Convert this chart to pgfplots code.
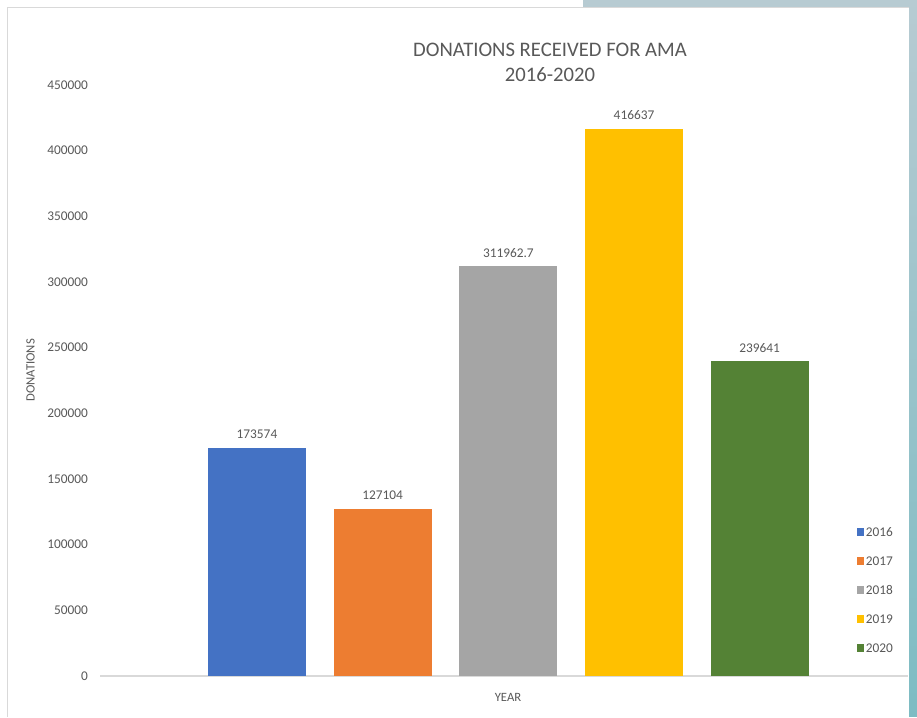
\documentclass[border=0pt]{standalone}
\usepackage{pgfplots}
\pgfplotsset{compat=1.18}
\usepackage{fontspec}
\setmainfont{Carlito}
\definecolor{txt}{HTML}{595959}
\definecolor{c16}{HTML}{4472C4}
\definecolor{c17}{HTML}{ED7D31}
\definecolor{c18}{HTML}{A5A5A5}
\definecolor{c19}{HTML}{FFC000}
\definecolor{c20}{HTML}{548235}
\definecolor{frame}{HTML}{D9D9D9}
\definecolor{bandtop}{HTML}{B7CBD2}
\definecolor{bandbot}{HTML}{7DBCC3}
\begin{document}
\begin{tikzpicture}
% background (1px = 0.75pt, y up)
\fill[white] (0pt,0pt) rectangle (687.75pt,537.75pt);
\fill[bandtop] (437.25pt,531.75pt) rectangle (687.75pt,537.75pt);
\shade[top color=bandtop, bottom color=bandbot] (681.75pt,0pt) rectangle (687.75pt,537.75pt);
\draw[frame, line width=0.75pt] (5.25pt,0pt) -- (5.25pt,531.75pt) -- (681.75pt,531.75pt);
% titles and axis labels
\node[txt, font=\fontsize{15.5}{18}\selectfont] at (412.5pt,500.25pt) {DONATIONS RECEIVED FOR AMA};
\node[txt, font=\fontsize{15.5}{18}\selectfont] at (412.5pt,481.5pt) {2016-2020};
\node[txt, font=\fontsize{9.5}{11}\selectfont, rotate=90] at (23pt,260pt) {DONATIONS};
\node[txt, font=\fontsize{9.5}{11}\selectfont] at (381pt,15pt) {YEAR};
\begin{axis}[
  at={(75pt,30.75pt)}, anchor=south west,
  scale only axis, width=606pt, height=443.25pt,
  xmin=-0.249, xmax=6.18, ymin=0, ymax=450000,
  ybar, bar width=0.78, bar shift=0pt,
  ytick={0,50000,...,450000},
  xtick=\empty,
  scaled y ticks=false,
  /pgf/number format/fixed,
  /pgf/number format/1000 sep={},
  /pgf/number format/assume math mode=true,
  major tick length=0pt,
  tick label style={txt, font=\fontsize{10}{12}\selectfont},
  yticklabel style={xshift=-5.5pt},
  axis x line*=bottom,
  axis y line*=left,
  x axis line style={frame, line width=0.9pt, -},
  y axis line style={draw=none, -},
  nodes near coords={\pgfplotspointmeta},
  point meta=explicit symbolic,
  nodes near coords style={txt, font=\fontsize{10}{12}\selectfont, anchor=south, yshift=3.3pt},
  legend image code/.code={\fill[#1, draw=none] (0pt,-2.7pt) rectangle (5.4pt,2.7pt);},
  legend style={at={(564.75pt,14.25pt)}, anchor=south west, draw=none, fill=none,
    font=\fontsize{10}{12}\selectfont, text=txt,
    nodes={text height=7pt, text depth=0pt, inner sep=1pt},
    row sep=12.75pt},
  legend cell align=left,
]
\addplot[fill=c16, draw=none] coordinates {(1,173574) [173574]};
\addplot[fill=c17, draw=none] coordinates {(2,127104) [127104]};
\addplot[fill=c18, draw=none] coordinates {(3,311962.7) [311962.7]};
\addplot[fill=c19, draw=none] coordinates {(4,416637) [416637]};
\addplot[fill=c20, draw=none] coordinates {(5,239641) [239641]};
\legend{2016,2017,2018,2019,2020}
\end{axis}
\end{tikzpicture}
\end{document}
